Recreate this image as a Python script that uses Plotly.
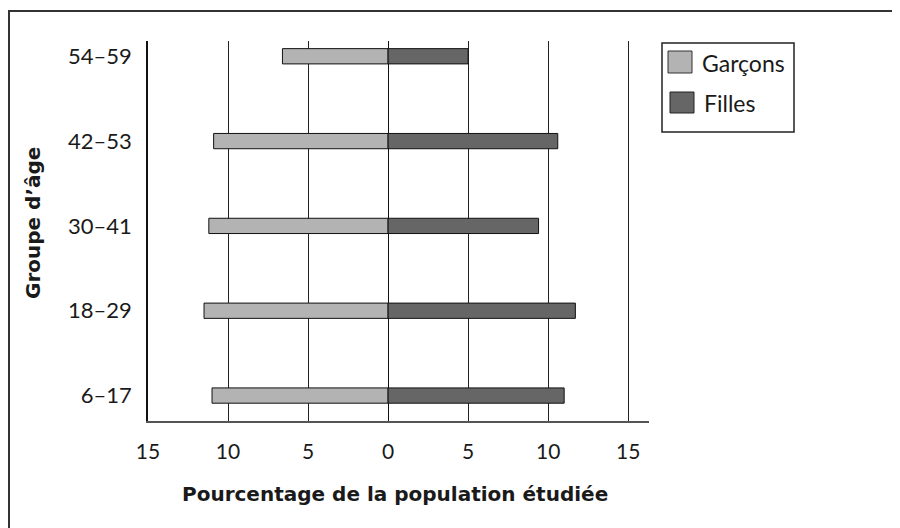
import plotly.graph_objects as go

AGE_GROUPS = ["6–17", "18–29", "30–41", "42–53", "54–59"]
GARCONS = [11.0, 11.5, 11.2, 10.9, 6.6]
FILLES = [11.0, 11.7, 9.4, 10.6, 5.0]
SERIES_NAMES = ["Garçons", "Filles"]
X_TICK_VALS = [-15, -10, -5, 0, 5, 10, 15]
X_TICK_TEXT = ["15", "10", "5", "0", "5", "10", "15"]
X_TITLE = "Pourcentage de la population étudiée"
Y_TITLE = "Groupe d’âge"

COLOR_BOYS = "#b3b3b3"
COLOR_GIRLS = "#666666"
FONT = "Lato, Open Sans, sans-serif"
TITLE_FONT = "DejaVu Sans, sans-serif"

# plot area in screenshot pixels; the page body adds an 8px offset
PL, PR, PT, PB = 148, 649, 41, 421
OFFSET = 8
W, H = 900, 528


def px_x(p):
    return (p - PL) / (PR - PL)


def px_y(p):
    return (PB - p) / (PB - PT)


fig = go.Figure()
fig.add_trace(
    go.Bar(
        y=AGE_GROUPS,
        x=[-v for v in GARCONS],
        orientation="h",
        name=SERIES_NAMES[0],
        marker=dict(color=COLOR_BOYS, line=dict(color="#111", width=1)),
        showlegend=False,
    )
)
fig.add_trace(
    go.Bar(
        y=AGE_GROUPS,
        x=FILLES,
        orientation="h",
        name=SERIES_NAMES[1],
        marker=dict(color=COLOR_GIRLS, line=dict(color="#111", width=1)),
        showlegend=False,
    )
)

fig.update_layout(
    width=W,
    height=H,
    barmode="overlay",
    bargap=0.82,
    paper_bgcolor="white",
    plot_bgcolor="white",
    font=dict(family=FONT, color="#1a1a1a", size=18),
    margin=dict(
        l=PL - OFFSET,
        r=W - (PR - OFFSET),
        t=PT - OFFSET,
        b=H - (PB - OFFSET),
    ),
    xaxis=dict(
        range=[-15, 16.3],
        tickmode="array",
        tickvals=X_TICK_VALS,
        ticktext=X_TICK_TEXT,
        showgrid=True,
        gridcolor="#222",
        gridwidth=1,
        zeroline=True,
        zerolinecolor="#111",
        zerolinewidth=1,
        showline=True,
        linecolor="#555",
        linewidth=1.5,
        ticks="",
        ticklabelstandoff=11,
        tickfont=dict(size=21),
        fixedrange=True,
    ),
    yaxis=dict(
        type="category",
        categoryorder="array",
        categoryarray=AGE_GROUPS,
        range=[-0.3, 4.18],
        showgrid=False,
        showline=True,
        linecolor="#111",
        linewidth=1.5,
        ticks="",
        ticklabelstandoff=10,
        tickfont=dict(size=22),
        fixedrange=True,
    ),
)

shapes = [
    # outer frame
    dict(type="rect", xref="paper", yref="paper",
         x0=px_x(9), x1=px_x(1000), y0=px_y(700), y1=px_y(11),
         line=dict(color="#333", width=2), fillcolor="rgba(0,0,0,0)"),
    # legend box
    dict(type="rect", xref="paper", yref="paper",
         x0=px_x(662), x1=px_x(794), y0=px_y(132), y1=px_y(43),
         line=dict(color="#222", width=1.5), fillcolor="white"),
    dict(type="rect", xref="paper", yref="paper",
         x0=px_x(668), x1=px_x(692), y0=px_y(73), y1=px_y(51),
         line=dict(color="#333", width=1), fillcolor=COLOR_BOYS),
    dict(type="rect", xref="paper", yref="paper",
         x0=px_x(670), x1=px_x(694), y0=px_y(113), y1=px_y(92),
         line=dict(color="#222", width=1), fillcolor=COLOR_GIRLS),
]

annotations = [
    dict(text=SERIES_NAMES[0], xref="paper", yref="paper",
         x=px_x(700), y=px_y(63), xanchor="left", yanchor="middle",
         showarrow=False, font=dict(size=23)),
    dict(text=SERIES_NAMES[1], xref="paper", yref="paper",
         x=px_x(702), y=px_y(103), xanchor="left", yanchor="middle",
         showarrow=False, font=dict(size=23)),
    dict(text=f"<b>{X_TITLE}</b>", xref="paper", yref="paper",
         x=px_x(395), y=px_y(494), xanchor="center", yanchor="middle",
         showarrow=False, font=dict(family=TITLE_FONT, size=20)),
    dict(text=f"<b>{Y_TITLE}</b>", xref="paper", yref="paper",
         x=px_x(33), y=px_y(223), xanchor="center", yanchor="middle",
         textangle=-90, showarrow=False, font=dict(family=TITLE_FONT, size=20)),
]

fig.update_layout(shapes=shapes, annotations=annotations)

fig.write_html("out.html", config={"displayModeBar": False})
